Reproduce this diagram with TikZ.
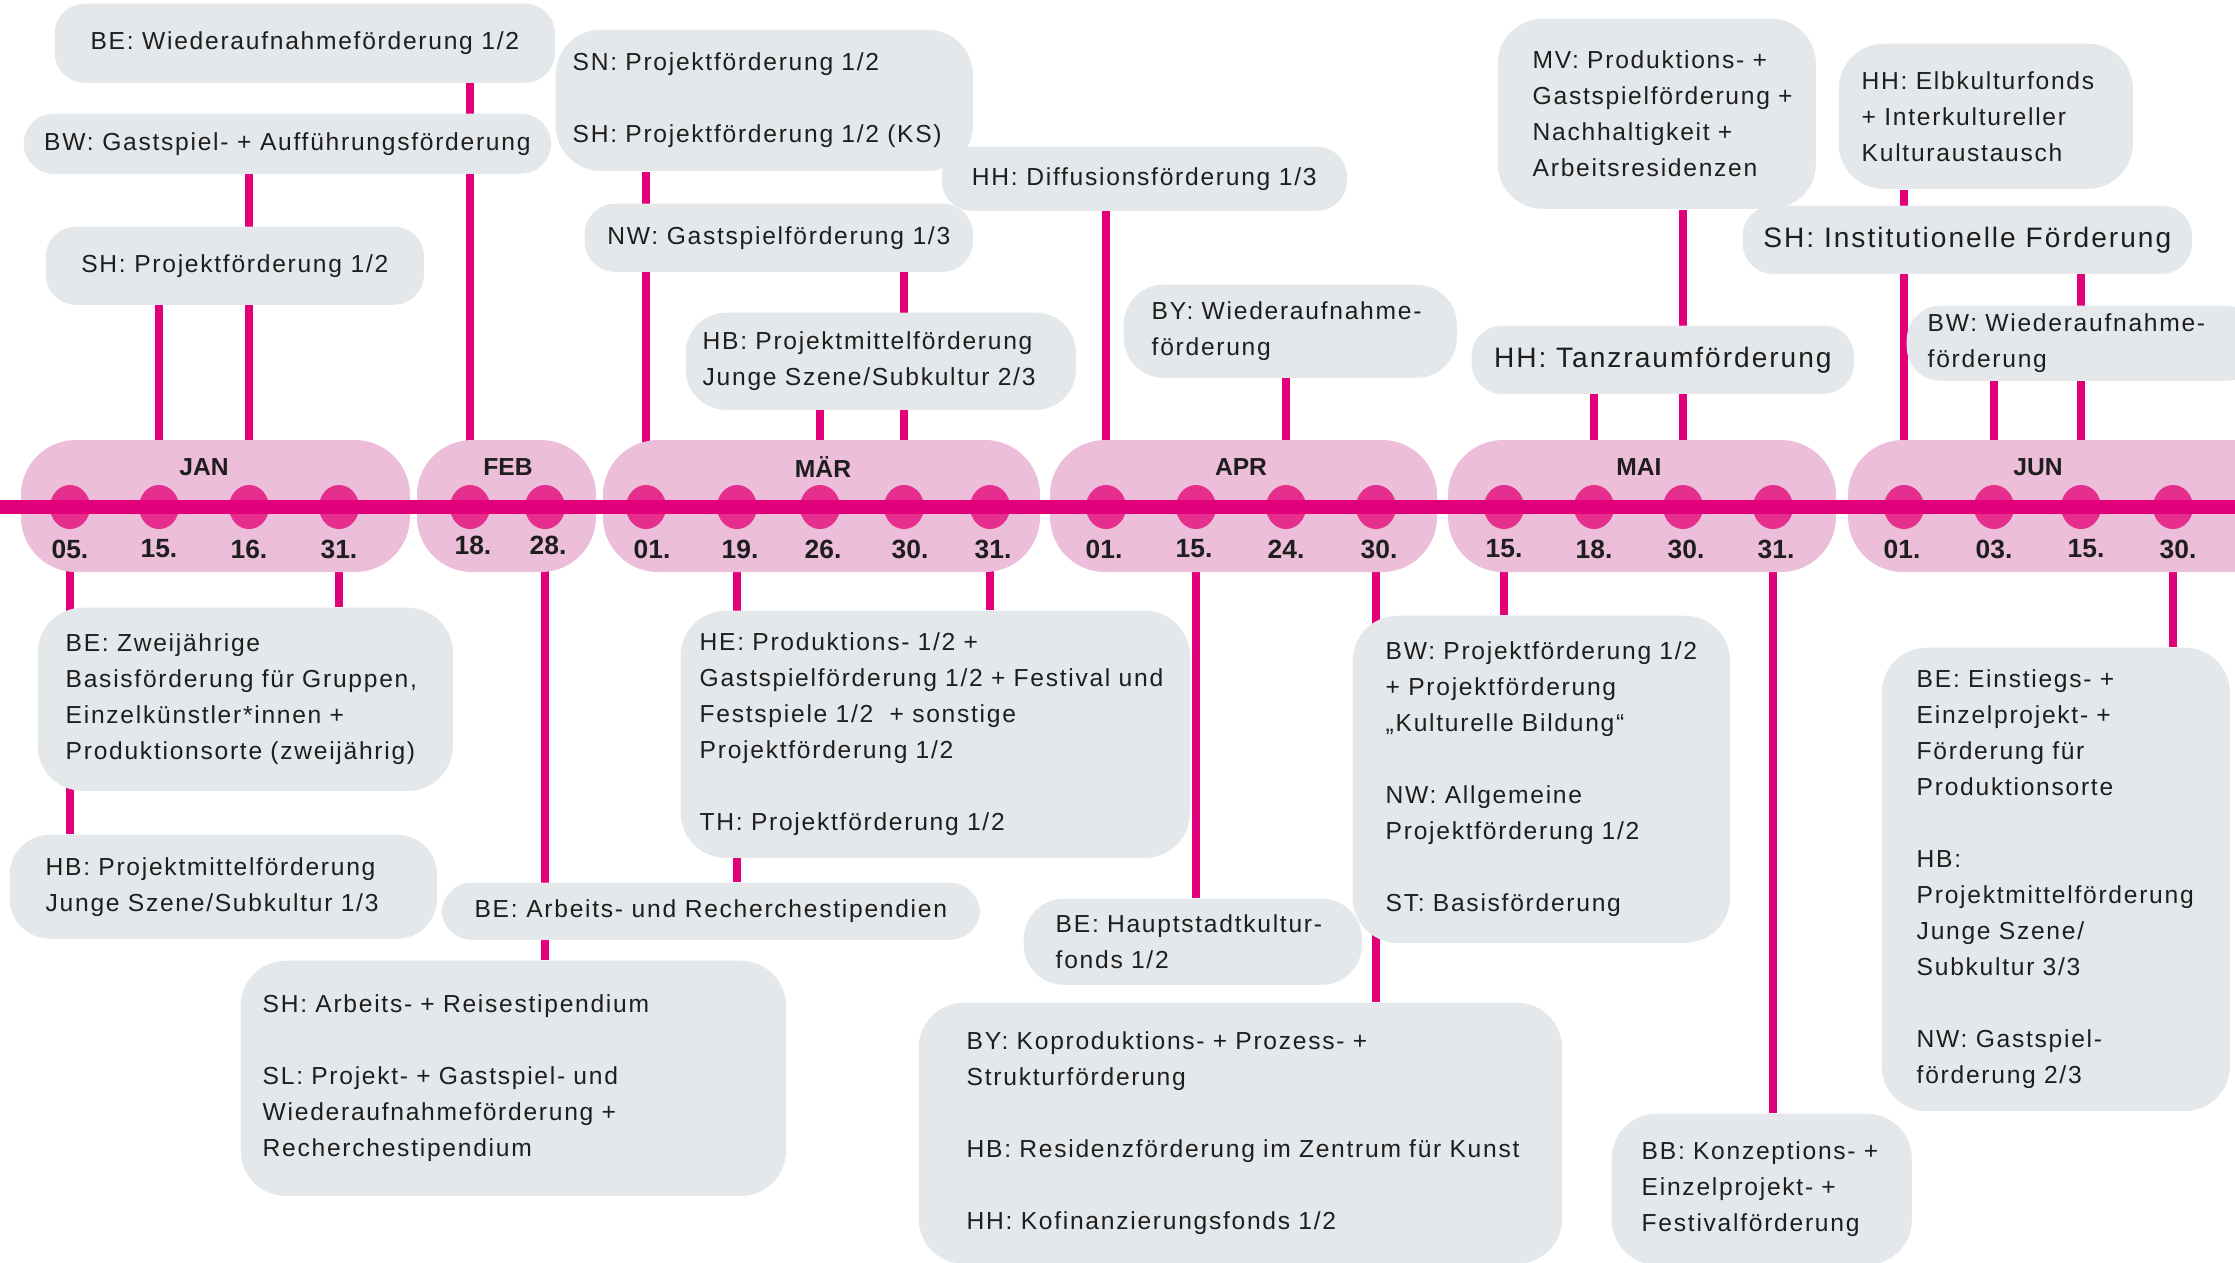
\documentclass[tikz,border=0pt]{standalone}
\usepackage{fontspec}
\setmainfont{Liberation Sans}
\newfontfamily\boxfont{Liberation Sans}[LetterSpace=7]
\usepackage{tikz}
\usetikzlibrary{shapes.geometric}
\usepackage{xcolor}
\definecolor{linemag}{HTML}{E2007A}
\definecolor{dotmag}{HTML}{E62E8E}
\definecolor{monthpink}{HTML}{ECBED9}
\definecolor{boxgrey}{HTML}{E4E8EB}
\definecolor{ink}{HTML}{1E1E1E}
\pgfdeclarelayer{back}
\pgfsetlayers{back,main}

\begin{document}
\begin{tikzpicture}[x=0.01cm, y=-0.01cm,
  capsule/.style={fill=monthpink, rounded corners=0.55cm},
  timeline/.style={linemag, line width=0.135cm},
  conn/.style={linemag, line width=0.08cm},
  dot/.style={ellipse, fill=dotmag, minimum width=0.40cm, minimum height=0.44cm, inner sep=0pt},
  month/.style={text=ink, font=\bfseries\fontsize{7}{8}\selectfont},
  day/.style={text=ink, font=\bfseries\fontsize{7.5}{9}\selectfont},
  ibox/.style={fill=boxgrey, rounded corners=0.45cm, anchor=north west, inner sep=0pt, align=left, text=ink, font=\boxfont\fontsize{7}{10.24}\selectfont},
  sbox/.style={fill=boxgrey, rounded corners=0.3cm, anchor=north west, inner sep=0pt, text=ink, font=\boxfont\fontsize{7}{10.24}\selectfont},
  bigbox/.style={sbox, font=\boxfont\fontsize{8}{10.24}\selectfont}]
  \useasboundingbox (0,0) rectangle (2235,1262);

  % month capsules
  \fill[capsule] (21,440) rectangle (410,572);
  \fill[capsule] (417,440) rectangle (596,572);
  \fill[capsule] (603,440) rectangle (1040,572);
  \fill[capsule] (1050,440) rectangle (1437,572);
  \fill[capsule] (1448,440) rectangle (1836,572);
  \fill[capsule] (1848,440) rectangle (2300,572);
  \node[month] (mJan) at (204,467) {JAN};
  \node[month] (mFeb) at (508,467) {FEB};
  \node[month] (mMar) at (823,467) {MÄR};
  \node[month] (mApr) at (1241,467) {APR};
  \node[month] (mMai) at (1639,467) {MAI};
  \node[month] (mJun) at (2038,467) {JUN};

  % dates
  \node[dot] (jan05) at (70,507) {};   \node[day] (jan05d) at (70,549) {05.};
  \node[dot] (jan15) at (159,507) {};  \node[day] (jan15d) at (159,549) {15.};
  \node[dot] (jan16) at (249,507) {};  \node[day] (jan16d) at (249,549) {16.};
  \node[dot] (jan31) at (339,507) {};  \node[day] (jan31d) at (339,549) {31.};
  \node[dot] (feb18) at (470,507) {};  \node[day] (feb18d) at (473,545) {18.};
  \node[dot] (feb28) at (545,507) {};  \node[day] (feb28d) at (548,545) {28.};
  \node[dot] (mar01) at (646,507) {};  \node[day] (mar01d) at (652,549) {01.};
  \node[dot] (mar19) at (737,507) {};  \node[day] (mar19d) at (740,549) {19.};
  \node[dot] (mar26) at (820,507) {};  \node[day] (mar26d) at (823,549) {26.};
  \node[dot] (mar30) at (904,507) {};  \node[day] (mar30d) at (910,549) {30.};
  \node[dot] (mar31) at (990,507) {};  \node[day] (mar31d) at (993,549) {31.};
  \node[dot] (apr01) at (1106,507) {}; \node[day] (apr01d) at (1104,549) {01.};
  \node[dot] (apr15) at (1196,507) {}; \node[day] (apr15d) at (1194,549) {15.};
  \node[dot] (apr24) at (1286,507) {}; \node[day] (apr24d) at (1286,549) {24.};
  \node[dot] (apr30) at (1376,507) {}; \node[day] (apr30d) at (1379,549) {30.};
  \node[dot] (mai15) at (1504,507) {}; \node[day] (mai15d) at (1504,549) {15.};
  \node[dot] (mai18) at (1594,507) {}; \node[day] (mai18d) at (1594,549) {18.};
  \node[dot] (mai30) at (1683,507) {}; \node[day] (mai30d) at (1686,549) {30.};
  \node[dot] (mai31) at (1773,507) {}; \node[day] (mai31d) at (1776,549) {31.};
  \node[dot] (jun01) at (1904,507) {}; \node[day] (jun01d) at (1902,549) {01.};
  \node[dot] (jun03) at (1994,507) {}; \node[day] (jun03d) at (1994,549) {03.};
  \node[dot] (jun15) at (2081,507) {}; \node[day] (jun15d) at (2086,549) {15.};
  \node[dot] (jun30) at (2173,507) {}; \node[day] (jun30d) at (2178,549) {30.};

  % timeline
  \coordinate (tlA) at (-20,507);
  \coordinate (tlB) at (2260,507);
  \draw[timeline] (tlA) -- (tlB);

  % boxes above
  \node[sbox, minimum width=5.00cm, minimum height=0.79cm] (beWa) at (54,3) {BE: Wiederaufnahmeförderung 1/2};
  \node[sbox, minimum width=5.27cm, minimum height=0.60cm] (bwGast) at (23,113) {BW: Gastspiel- + Aufführungsförderung};
  \node[sbox, minimum width=3.78cm, minimum height=0.78cm] (shProj) at (45,226) {SH: Projektförderung 1/2};
  \node[ibox, text width=4.17cm, minimum height=1.41cm] (snProj) at (555,29)
    {\leftskip=0.17cm SN: Projektförderung 1/2\\[0.36cm] SH: Projektförderung 1/2 (KS)\par};
  \node[sbox, minimum width=3.88cm, minimum height=0.68cm] (nwGast) at (584,203) {NW: Gastspielförderung 1/3};
  \node[sbox, minimum width=4.05cm, minimum height=0.64cm] (hhDiff) at (941,146) {HH: Diffusionsförderung 1/3};
  \node[ibox, rounded corners=0.4cm, text width=3.90cm, minimum height=0.97cm] (hbJs2) at (685,312)
    {\leftskip=0.17cm HB: Projektmittelförderung\\ Junge Szene/Subkultur 2/3\par};
  \node[ibox, rounded corners=0.4cm, text width=3.33cm, minimum height=0.93cm] (byWa) at (1123,284)
    {\leftskip=0.28cm BY: Wiederaufnahme-\\ förderung\par};
  \node[ibox, text width=3.18cm, minimum height=1.90cm] (mvProd) at (1497,18)
    {\leftskip=0.35cm MV: Produktions- +\\ Gastspielförderung +\\ Nachhaltigkeit +\\ Arbeitsresidenzen\par};
  \node[ibox, text width=2.94cm, minimum height=1.45cm] (hhElb) at (1838,43)
    {\leftskip=0.23cm HH: Elbkulturfonds\\ + Interkultureller\\ Kulturaustausch\par};
  \node[bigbox, minimum width=4.49cm, minimum height=0.68cm] (shInst) at (1742,205) {SH: Institutionelle Förderung};
  \node[ibox, rounded corners=0.34cm, text width=3.54cm, minimum height=0.75cm] (bwWa) at (1906,305)
    {\leftskip=0.21cm BW: Wiederaufnahme-\\ förderung\par};
  \node[bigbox, minimum width=3.82cm, minimum height=0.68cm] (hhTanz) at (1471,325) {HH: Tanzraumförderung};

  % boxes below
  \node[ibox, text width=4.15cm, minimum height=1.83cm] (beZw) at (37,607)
    {\leftskip=0.28cm BE: Zweijährige\\ Basisförderung für Gruppen,\\ Einzelkünstler*innen +\\ Produktionsorte (zweijährig)\par};
  \node[ibox, rounded corners=0.4cm, text width=4.27cm, minimum height=1.04cm] (hbJs1) at (9,834)
    {\leftskip=0.36cm HB: Projektmittelförderung\\ Junge Szene/Subkultur 1/3\par};
  \node[sbox, minimum width=5.38cm, minimum height=0.57cm] (beArb) at (441,882) {BE: Arbeits- und Recherchestipendien};
  \node[ibox, text width=5.45cm, minimum height=2.35cm] (shArb) at (240,960)
    {\leftskip=0.22cm SH: Arbeits- + Reisestipendium\\[0.36cm] SL: Projekt- + Gastspiel- und\\ Wiederaufnahmeförderung +\\ Recherchestipendium\par};
  \node[ibox, text width=5.09cm, minimum height=2.47cm] (heProd) at (680,610)
    {\leftskip=0.19cm HE: Produktions- 1/2 +\\ Gastspielförderung 1/2 + Festival und\\ Festspiele 1/2 \ + sonstige\\ Projektförderung 1/2\\[0.36cm] TH: Projektförderung 1/2\par};
  \node[ibox, rounded corners=0.4cm, text width=3.38cm, minimum height=0.86cm] (beHaupt) at (1023,898)
    {\leftskip=0.32cm BE: Hauptstadtkultur-\\ fonds 1/2\par};
  \node[ibox, text width=6.43cm, minimum height=2.61cm] (byKop) at (918,1002)
    {\leftskip=0.48cm BY: Koproduktions- + Prozess- +\\ Strukturförderung\\[0.36cm] HB: Residenzförderung im Zentrum für Kunst\\[0.36cm] HH: Kofinanzierungsfonds 1/2\par};
  \node[ibox, text width=3.77cm, minimum height=3.27cm] (bwProj) at (1352,615)
    {\leftskip=0.33cm BW: Projektförderung 1/2\\ + Projektförderung\\ „Kulturelle Bildung“\\[0.36cm] NW: Allgemeine\\ Projektförderung 1/2\\[0.36cm] ST: Basisförderung\par};
  \node[ibox, text width=3.00cm, minimum height=1.51cm] (bbKonz) at (1611,1113)
    {\leftskip=0.30cm BB: Konzeptions- +\\ Einzelprojekt- +\\ Festivalförderung\par};
  \node[ibox, text width=3.48cm, minimum height=4.63cm] (beEin) at (1881,647)
    {\leftskip=0.35cm BE: Einstiegs- +\\ Einzelprojekt- +\\ Förderung für\\ Produktionsorte\\[0.36cm] HB:\\ Projektmittelförderung\\ Junge Szene/\\ Subkultur 3/3\\[0.36cm] NW: Gastspiel-\\ förderung 2/3\par};

  % connectors behind everything
  \begin{pgfonlayer}{back}
    \draw[conn] (feb18 |- beWa.south) -- (feb18);
    \draw[conn] (jan16 |- bwGast.south) -- (jan16);
    \draw[conn] (jan15 |- shProj.south) -- (jan15);
    \draw[conn] (mar01 |- snProj.south) -- (mar01);
    \draw[conn] (mar30 |- nwGast.south) -- (mar30);
    \draw[conn] (mar26 |- hbJs2.south) -- (mar26);
    \draw[conn] (apr01 |- hhDiff.south) -- (apr01);
    \draw[conn] (apr24 |- byWa.south) -- (apr24);
    \draw[conn] (mai30 |- mvProd.south) -- (mai30);
    \draw[conn] (mai18 |- hhTanz.south) -- (mai18);
    \draw[conn] (jun01 |- hhElb.south) -- (jun01);
    \draw[conn] (jun15 |- shInst.south) -- (jun15);
    \draw[conn] (jun03 |- bwWa.south) -- (jun03);
    \draw[conn] (jan05) -- (jan05 |- hbJs1.north);
    \draw[conn] (jan31) -- (jan31 |- beZw.north);
    \draw[conn] (feb28) -- (feb28 |- shArb.north);
    \draw[conn] (mar19) -- (mar19 |- beArb.north);
    \draw[conn] (mar31) -- (mar31 |- heProd.north);
    \draw[conn] (apr15) -- (apr15 |- beHaupt.north);
    \draw[conn] (apr30) -- (apr30 |- byKop.north);
    \draw[conn] (mai15) -- (mai15 |- bwProj.north);
    \draw[conn] (mai31) -- (mai31 |- bbKonz.north);
    \draw[conn] (jun30) -- (jun30 |- beEin.north);
  \end{pgfonlayer}
\end{tikzpicture}
\end{document}
